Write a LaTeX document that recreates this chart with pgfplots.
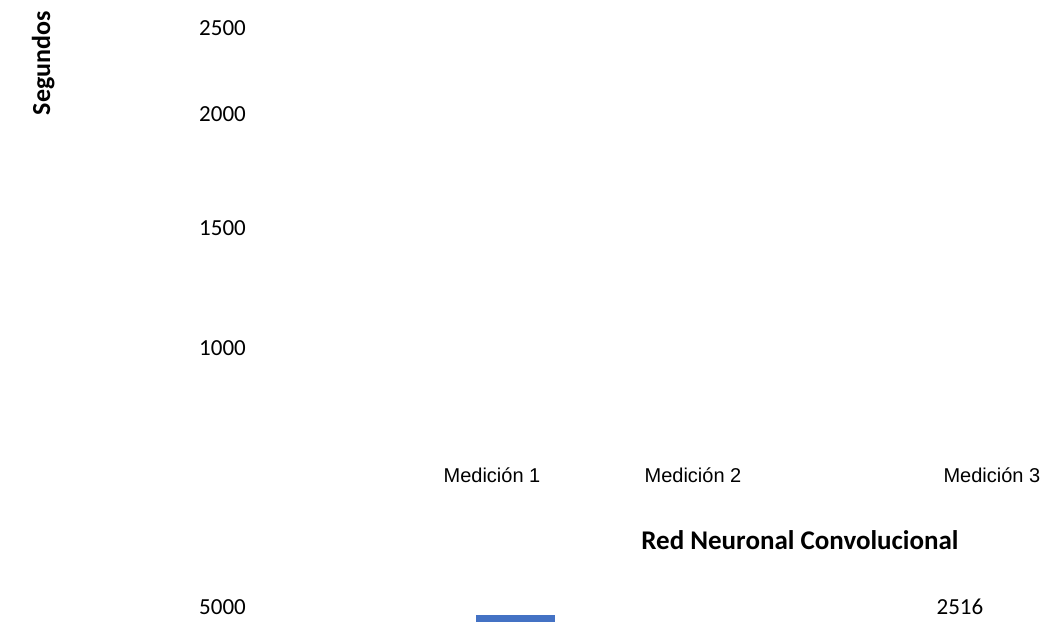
\documentclass[border=0pt]{standalone}
\usepackage{fontspec}
\setmainfont{Carlito}
\newfontfamily\arialfont{Liberation Sans}
\usepackage{pgfplots}
\pgfplotsset{compat=1.18}
\definecolor{barblue}{HTML}{4472C4}
\begin{document}
\begin{tikzpicture}
\begin{axis}[
    scale only axis,
    width=1047pt, height=622pt,
    xmin=0, xmax=1047, ymin=0, ymax=622,
    axis line style={draw=none},
    major tick length=0pt,
    ytick={15,274,394,508,594},
    yticklabels={5000,1000,1500,2000,2500},
    yticklabel style={font=\fontsize{23}{23}\selectfont, anchor=east, inner sep=0pt, xshift=246pt},
    xtick={492,693,992},
    xticklabels={Medición 1,Medición 2,Medición 3},
    xticklabel style={font=\arialfont\fontsize{20}{20}\selectfont, anchor=base, inner sep=0pt, yshift=140pt},
    clip=false,
]
    % the one bar that shows, cut off at the bottom
    \addplot[ybar, bar width=79pt, bar shift=0pt, fill=barblue, draw=none]
        coordinates {(515.5,7)};
    \node[font=\bfseries\fontsize{27}{27}\selectfont] at (axis cs:800,82) {Red Neuronal Convolucional};
    \node[font=\fontsize{23}{23}\selectfont] at (axis cs:960,15) {2516};
    \node[rotate=90, font=\bfseries\fontsize{26}{26}\selectfont] at (axis cs:43,559) {Segundos};
\end{axis}
\end{tikzpicture}
\end{document}
